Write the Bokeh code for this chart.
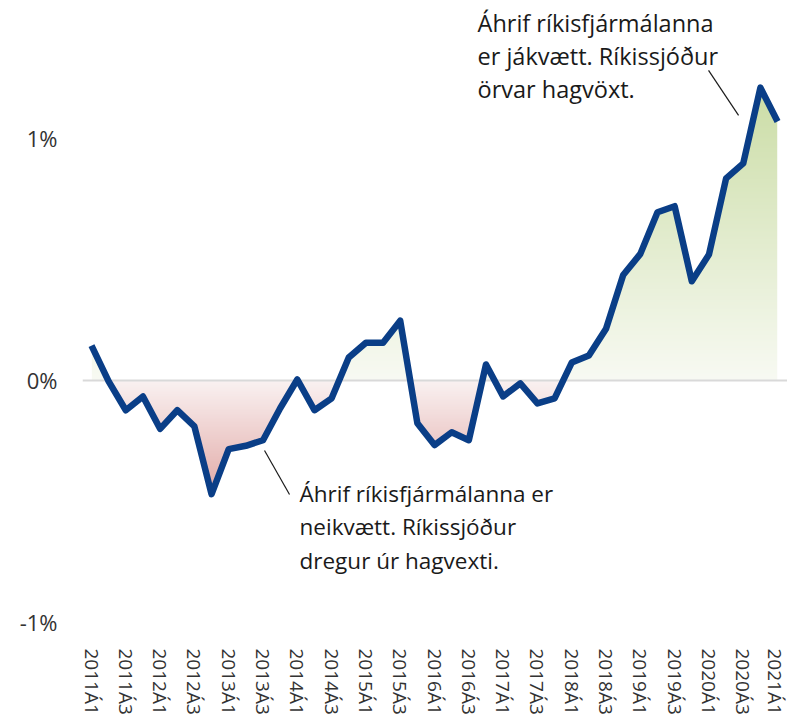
import numpy as np
from bokeh.plotting import figure
from bokeh.models import Label, FixedTicker, Span, Range1d, Arrow, PrintfTickFormatter
from bokeh.embed import file_html
from bokeh.resources import INLINE

# ---------------- data ----------------
quarters = [f"{yr}Á{q}" for yr in range(2011, 2022) for q in range(1, 5)][:41]
values = [0.144, -0.004, -0.123, -0.066, -0.200, -0.123, -0.190, -0.470, -0.284, -0.270,
          -0.247, -0.115, 0.004, -0.123, -0.074, 0.095, 0.156, 0.156, 0.247, -0.177,
          -0.267, -0.214, -0.247, 0.066, -0.066, -0.012, -0.095, -0.074, 0.074, 0.103,
          0.214, 0.436, 0.523, 0.695, 0.720, 0.410, 0.520, 0.835, 0.897, 1.210, 1.070]
y_ticks = [-1, 0, 1]
x_tick_step = 2
text_positive = ["Áhrif ríkisfjármálanna", "er jákvætt. Ríkissjóður", "örvar hagvöxt."]
text_negative = ["Áhrif ríkisfjármálanna er", "neikvætt. Ríkissjóður", "dregur úr hagvexti."]

# ---------------- layout ----------------
X0, X1 = -0.525, 40.58
Y0, Y1 = -1.025, 1.537

def dx(px):  # reference pixel -> data x
    return (px - 91) / 17.15

def dy(py):  # reference pixel -> data y
    return (380 - py) / 242.0

n = len(values)
x = np.arange(n)
v = np.array(values, dtype=float)

p = figure(width=787, height=718, output_backend="svg", toolbar_location=None,
           x_range=Range1d(X0, X1), y_range=Range1d(Y0, Y1),
           min_border_left=82, min_border_right=0, min_border_top=8, min_border_bottom=90)
p.outline_line_color = None
p.xgrid.visible = False
p.ygrid.visible = False
p.background_fill_color = "white"
p.border_fill_color = "white"

# gradient fill image
vmin, vmax = v.min(), v.max()
N = 500
ys = np.linspace(vmin, vmax, N)
img = np.zeros((N, 2), dtype=np.uint32)
view = img.view(dtype=np.uint8).reshape((N, 2, 4))
g_lo, g_hi = np.array([248, 250, 243]), np.array([203, 221, 166])
r_lo, r_hi = np.array([250, 242, 242]), np.array([226, 170, 167])
for k, yv in enumerate(ys):
    if yv >= 0:
        t = yv / vmax
        c = g_lo * (1 - t) + g_hi * t
    else:
        t = yv / vmin
        c = r_lo * (1 - t) + r_hi * t
    view[k, :, 0] = int(c[0])
    view[k, :, 1] = int(c[1])
    view[k, :, 2] = int(c[2])
    view[k, :, 3] = 255
p.image_rgba(image=[img], x=0, y=vmin, dw=n - 1, dh=vmax - vmin)

# masks: keep only the band between the line and zero
xa, ya = [], []
for i in range(n):
    xa.append(float(x[i])); ya.append(float(v[i]))
    if i < n - 1 and v[i] * v[i + 1] < 0:
        xa.append(float(x[i] + v[i] / (v[i] - v[i + 1]))); ya.append(0.0)
xa = np.array(xa); ya = np.array(ya)
pos = np.maximum(ya, 0.0)
neg = np.minimum(ya, 0.0)
# extend the masks past both ends so the image edges are fully covered
xm = np.concatenate([[X0 - 1, -0.02], xa, [n - 1 + 0.02, X1 + 1]])
top_edge = np.concatenate([[Y0 - 1, Y0 - 1], pos, [Y0 - 1, Y0 - 1]])
bot_edge = np.concatenate([[Y1 + 1, Y1 + 1], neg, [Y1 + 1, Y1 + 1]])
p.varea(x=xm, y1=top_edge, y2=Y1 + 1, fill_color="white", fill_alpha=1.0)
p.varea(x=xm, y1=Y0 - 1, y2=bot_edge, fill_color="white", fill_alpha=1.0)

# zero line
p.add_layout(Span(location=0, dimension="width", line_color="#d9d9d9", line_width=2))

# data line
p.line(x, v, line_color="#0a3e87", line_width=6.5, line_join="round", level="overlay")

# axes
p.xaxis.ticker = FixedTicker(ticks=list(range(0, n, x_tick_step)))
p.xaxis.major_label_overrides = {i: quarters[i] for i in range(0, n, x_tick_step)}
p.xaxis.major_label_orientation = "vertical"
p.yaxis.ticker = FixedTicker(ticks=y_ticks)
p.yaxis.formatter = PrintfTickFormatter(format="%d%%")
for ax in (p.xaxis, p.yaxis):
    ax.axis_line_color = None
    ax.major_tick_line_color = None
    ax.minor_tick_line_color = None
    ax.major_tick_out = 0
    ax.major_tick_in = 0
    ax.major_label_text_font = "Open Sans"
    ax.major_label_text_color = "#333333"
p.xaxis.major_label_text_font_size = "19px"
p.xaxis.major_label_standoff = 20
p.yaxis.major_label_text_font_size = "22px"
p.yaxis.major_label_standoff = 25

# annotations
for k, line in enumerate(text_positive):
    p.add_layout(Label(x=dx(477), y=dy(23 + 33 * k), text=line, text_font="Open Sans",
                       text_font_size="23.5px", text_color="#1a1a1a", text_baseline="alphabetic"))
for k, line in enumerate(text_negative):
    p.add_layout(Label(x=dx(299), y=dy(493 + 33.5 * k), text=line, text_font="Open Sans",
                       text_font_size="22.5px", text_color="#1a1a1a", text_baseline="alphabetic"))
p.add_layout(Arrow(x_start=dx(708), y_start=dy(70), x_end=dx(738), y_end=dy(115),
                   end=None, line_color="#1a1a1a", line_width=1.2))
p.add_layout(Arrow(x_start=dx(264), y_start=dy(450), x_end=dx(289), y_end=dy(494),
                   end=None, line_color="#1a1a1a", line_width=1.2))

open("out.html", "w").write(file_html(p, INLINE))
